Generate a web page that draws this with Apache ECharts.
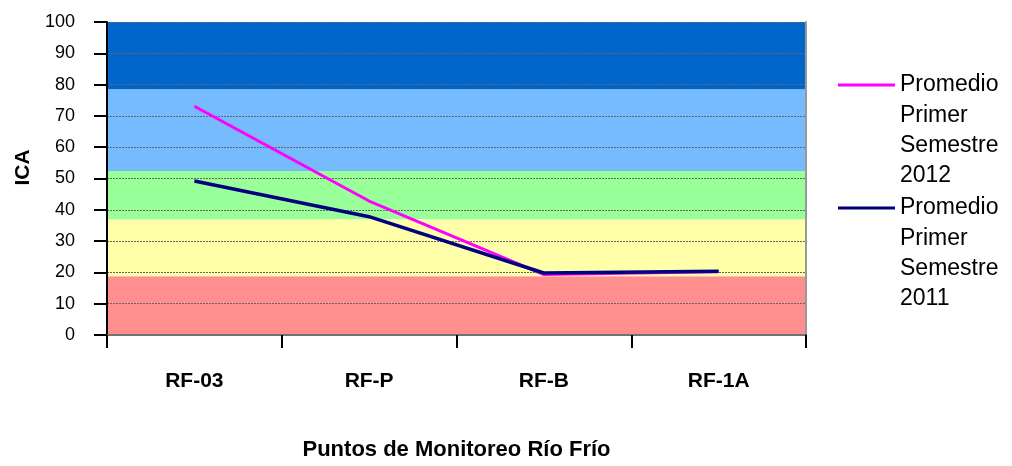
<!DOCTYPE html>
<html><head><meta charset="utf-8">
<script src="https://cdn.jsdelivr.net/npm/echarts@6/dist/echarts.min.js"></script>
<style>html,body{margin:0;padding:0;background:#fff}#c{width:1012px;height:466px}</style>
</head><body><div id="c"></div>
<script>
const categories = ['RF-03', 'RF-P', 'RF-B', 'RF-1A'];
const seriesNames = ['Promedio Primer Semestre 2012', 'Promedio Primer Semestre 2011'];
const values2012 = [73.1, 42.8, 19.3, 20.2];
const values2011 = [49.2, 37.8, 19.8, 20.4];
const bandEdges = [0, 18.8, 37.0, 52.4, 78.5, 100];
const bandColors = ['#FF8F8F', '#FFFFAA', '#99FF99', '#77BBFF', '#0066CC'];
const lineColors = ['#FF00FF', '#000080'];
const yTicks = [0, 100, 10];

const FONT = 'Arial, "Liberation Sans", sans-serif';
const chart = echarts.init(document.getElementById('c'));
const bands = [];
for (let i = 0; i < bandColors.length; i++) {
  bands.push([{ yAxis: bandEdges[i], itemStyle: { color: bandColors[i] } }, { yAxis: bandEdges[i + 1] }]);
}
const legendLines = [];
const legendTexts = [];
const legendTop = [85, 208];
seriesNames.forEach((n, i) => {
  legendLines.push({ type: 'line', shape: { x1: 838, y1: legendTop[i], x2: 895, y2: legendTop[i] }, style: { stroke: lineColors[i], lineWidth: 3 } });
  legendTexts.push({ type: 'text', left: 900, top: legendTop[i] - 15, style: { text: n.split(' ').join('\n'), font: '23px ' + FONT, fill: '#000', lineHeight: 30.3 } });
});
chart.setOption({
  animation: false,
  grid: { left: 107, right: 206, top: 22, bottom: 128, show: false },
  xAxis: [{
    type: 'category', data: categories, boundaryGap: true,
    name: 'Puntos de Monitoreo Río Frío', nameLocation: 'middle', nameGap: 104,
    nameTextStyle: { fontFamily: FONT, fontWeight: 'bold', fontSize: 22, color: '#000' },
    axisLine: { lineStyle: { color: '#000', width: 2 } },
    axisTick: { show: true, length: 13, lineStyle: { color: '#000', width: 2 } },
    axisLabel: { margin: 36, fontFamily: FONT, fontWeight: 'bold', fontSize: 21, color: '#000' },
    z: 5
  }, {
    type: 'category', data: categories, position: 'top',
    axisLine: { lineStyle: { color: '#999', width: 1.5 } }, axisTick: { show: false }, axisLabel: { show: false }, z: 5
  }],
  yAxis: [{
    type: 'value', min: yTicks[0], max: yTicks[1], interval: yTicks[2],
    name: 'ICA', nameLocation: 'middle', nameGap: 71, nameRotate: 90,
    nameTextStyle: { fontFamily: FONT, fontWeight: 'bold', fontSize: 21, color: '#000', padding: [0, 0, 0, 22] },
    axisLine: { show: true, lineStyle: { color: '#000', width: 2 } },
    axisTick: { show: true, length: 13, lineStyle: { color: '#000', width: 2 } },
    axisLabel: { margin: 32, fontFamily: FONT, fontSize: 18, color: '#000', padding: [0, 0, 13, 0] },
    splitLine: { show: true, lineStyle: { color: '#666', width: 1, type: [2, 1] } },
    z: 5
  }, {
    type: 'value', min: yTicks[0], max: yTicks[1], interval: yTicks[2], position: 'right',
    axisLine: { show: true, lineStyle: { color: '#999', width: 2 } }, axisTick: { show: false }, axisLabel: { show: false }, splitLine: { show: false }, z: 5
  }],
  series: [
    { type: 'line', data: [], z: 1, silent: true, markArea: { silent: true, data: bands } },
    { name: seriesNames[0], type: 'line', data: values2012, symbol: 'none', z: 10, lineStyle: { color: lineColors[0], width: 3 } },
    { name: seriesNames[1], type: 'line', data: values2011, symbol: 'none', z: 11, lineStyle: { color: lineColors[1], width: 3.5 } }
  ],
  graphic: legendLines.concat(legendTexts)
});
</script></body></html>
